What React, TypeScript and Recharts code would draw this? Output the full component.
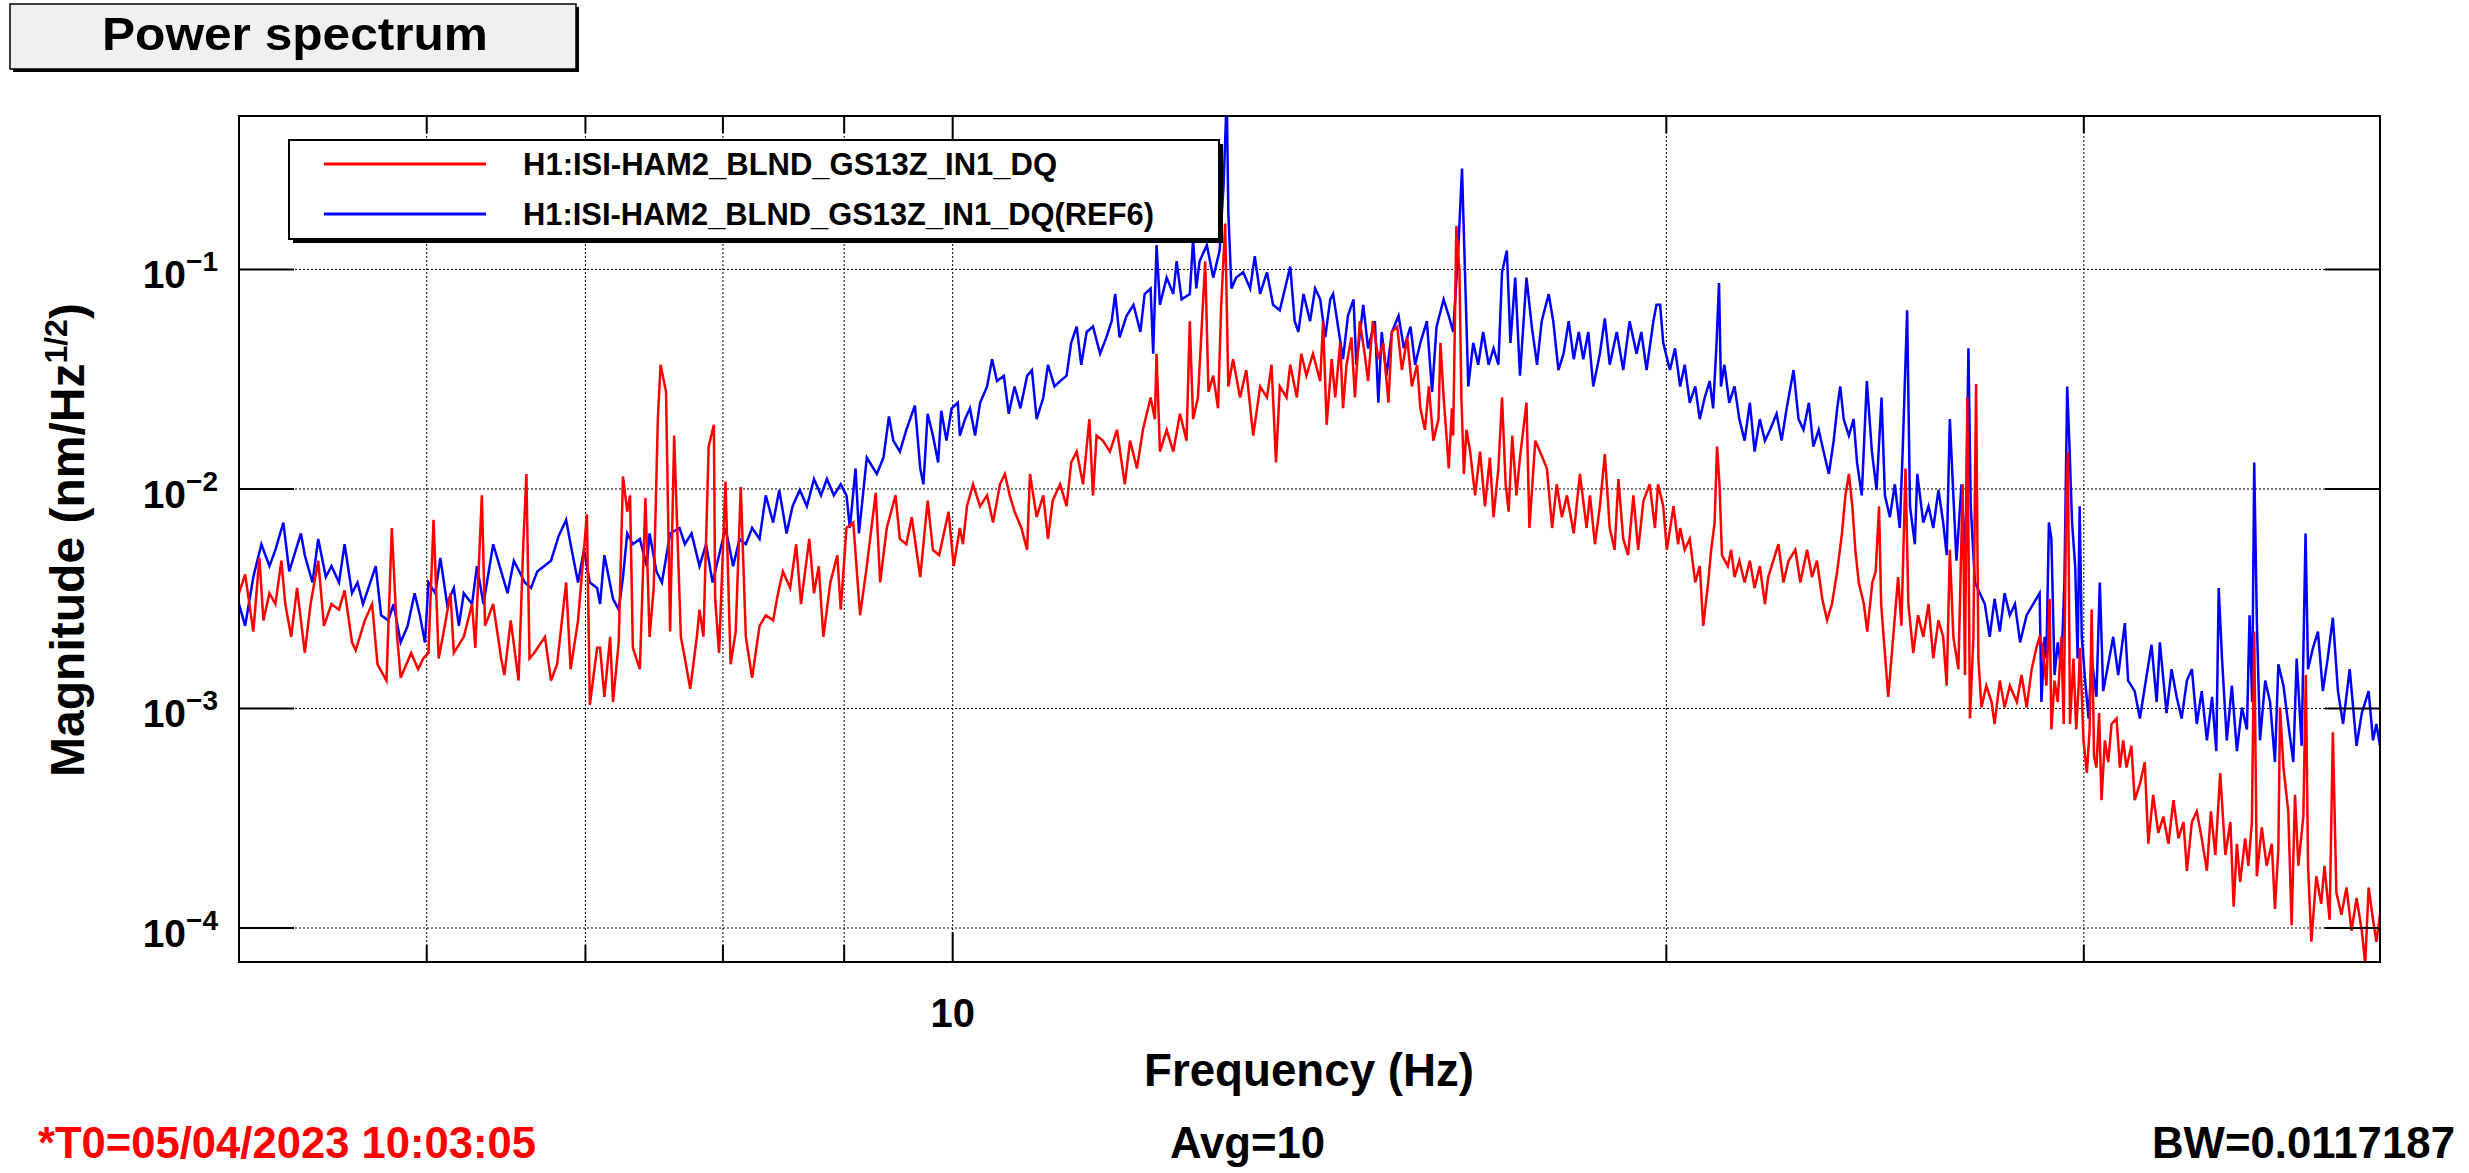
import React from 'react';
import { LineChart, Line, XAxis, YAxis, CartesianGrid } from 'recharts';

// ---------- data (frequency Hz, magnitude nm/Hz^1/2) ----------
const redSeries: [number, number][] = [
  [5.00, 0.00335], [5.03, 0.00408], [5.07, 0.00224], [5.10, 0.00485], [5.12, 0.00252], [5.15, 0.00335],
  [5.18, 0.00299], [5.21, 0.00471], [5.23, 0.00299], [5.26, 0.00212], [5.29, 0.00354], [5.33, 0.00179],
  [5.36, 0.00299], [5.40, 0.00471], [5.43, 0.00238], [5.47, 0.00299], [5.51, 0.00282], [5.54, 0.00345],
  [5.58, 0.00200], [5.60, 0.00184], [5.65, 0.00252], [5.69, 0.00299], [5.72, 0.00159], [5.77, 0.00134],
  [5.80, 0.00664], [5.83, 0.00212], [5.85, 0.00138], [5.91, 0.00179], [5.95, 0.00151], [5.98, 0.00169],
  [6.01, 0.00179], [6.04, 0.00723], [6.07, 0.00169], [6.10, 0.00224], [6.14, 0.00335], [6.16, 0.00179],
  [6.22, 0.00212], [6.27, 0.00299], [6.29, 0.00189], [6.33, 0.00935], [6.35, 0.00238], [6.40, 0.00299],
  [6.45, 0.00169], [6.47, 0.00142], [6.51, 0.00252], [6.56, 0.00134], [6.59, 0.00560], [6.61, 0.0117],
  [6.63, 0.00169], [6.66, 0.00179], [6.73, 0.00212], [6.77, 0.00134], [6.81, 0.00159], [6.87, 0.00375],
  [6.90, 0.00151], [6.95, 0.00252], [7.01, 0.00766], [7.03, 0.00104], [7.08, 0.00189],
  [7.10, 0.00189], [7.13, 0.00113], [7.17, 0.00212], [7.19, 0.00107], [7.23, 0.00200], [7.26, 0.0114],
  [7.29, 0.00788], [7.31, 0.00935], [7.33, 0.00189], [7.38, 0.00151], [7.42, 0.0091], [7.45, 0.00212],
  [7.48, 0.00354], [7.51, 0.0208], [7.53, 0.0368], [7.57, 0.0277], [7.60, 0.00224], [7.63, 0.0175],
  [7.65, 0.00744], [7.68, 0.00212], [7.71, 0.00169], [7.75, 0.00123], [7.80, 0.00212], [7.82, 0.00282],
  [7.85, 0.00212], [7.89, 0.0156], [7.93, 0.0196], [7.94, 0.00316], [7.97, 0.00179], [8.02, 0.0108],
  [8.06, 0.00159], [8.10, 0.00224], [8.14, 0.0102], [8.18, 0.00212], [8.23, 0.00138], [8.29, 0.00238],
  [8.34, 0.00266], [8.40, 0.00252], [8.44, 0.00335], [8.48, 0.00421], [8.54, 0.00354], [8.59, 0.00560],
  [8.63, 0.00299], [8.70, 0.00592], [8.74, 0.00335], [8.78, 0.00445], [8.82, 0.00212], [8.88, 0.00375],
  [8.94, 0.00499], [8.97, 0.00282], [9.02, 0.00664], [9.08, 0.00703], [9.14, 0.00266], [9.20, 0.00445],
  [9.28, 0.0096], [9.32, 0.00375], [9.38, 0.00664], [9.46, 0.00935], [9.50, 0.00592], [9.56, 0.00560],
  [9.61, 0.00744], [9.69, 0.00397], [9.76, 0.00884], [9.81, 0.00528], [9.87, 0.00499], [9.96, 0.00788],
  [10.01, 0.00445], [10.07, 0.00664],
  [10.10, 0.00560], [10.14, 0.00834], [10.20, 0.0105], [10.27, 0.00834], [10.34, 0.00935], [10.40, 0.00703],
  [10.47, 0.0105], [10.52, 0.0117], [10.57, 0.00935], [10.62, 0.00788], [10.69, 0.00664], [10.75, 0.00528],
  [10.78, 0.0117], [10.85, 0.00744], [10.92, 0.00935], [10.97, 0.00592], [11.02, 0.00884], [11.10, 0.0105],
  [11.17, 0.00834], [11.22, 0.0132], [11.28, 0.0148], [11.35, 0.0105], [11.42, 0.0208], [11.46, 0.00935],
  [11.50, 0.0175], [11.57, 0.0166], [11.65, 0.0148], [11.73, 0.0186], [11.82, 0.0105], [11.88, 0.0166],
  [11.96, 0.0124], [12.03, 0.0186], [12.12, 0.0261], [12.17, 0.0208], [12.19, 0.0413], [12.23, 0.0148],
  [12.31, 0.0186], [12.39, 0.0148], [12.47, 0.0220], [12.55, 0.0166], [12.59, 0.0581], [12.63, 0.0208],
  [12.69, 0.0261], [12.78, 0.109], [12.82, 0.0277], [12.88, 0.0328], [12.94, 0.0233], [12.98, 0.0690],
  [13.03, 0.162], [13.07, 0.0293], [13.13, 0.0390], [13.22, 0.0261], [13.30, 0.0348], [13.39, 0.0175],
  [13.48, 0.0293], [13.57, 0.0261], [13.63, 0.0368], [13.69, 0.0132], [13.74, 0.0293], [13.83, 0.0261],
  [13.88, 0.0368], [13.97, 0.0261], [14.03, 0.0413], [14.10, 0.0328], [14.19, 0.0413], [14.29, 0.0310],
  [14.33, 0.0581], [14.38, 0.0196], [14.45, 0.0390], [14.50, 0.0261], [14.57, 0.0463], [14.61, 0.0233],
  [14.66, 0.0368], [14.73, 0.0490], [14.78, 0.0261], [14.85, 0.0581], [14.92, 0.0413], [14.97, 0.0310],
  [15.04, 0.0581], [15.12, 0.0390], [15.19, 0.0463], [15.27, 0.0247], [15.32, 0.0519], [15.40, 0.0549],
  [15.47, 0.0348], [15.55, 0.0490], [15.62, 0.0293], [15.70, 0.0368], [15.75, 0.0233], [15.82, 0.0186],
  [15.88, 0.0293], [15.95, 0.0166], [16.03, 0.0208], [16.06, 0.0463], [16.11, 0.0261], [16.16, 0.0166],
  [16.19, 0.0124], [16.24, 0.0233], [16.26, 0.0175], [16.31, 0.158], [16.36, 0.0972], [16.39, 0.0261],
  [16.43, 0.0117], [16.47, 0.0186], [16.53, 0.0148], [16.61, 0.00935], [16.69, 0.0148], [16.77, 0.00834],
  [16.85, 0.0139], [16.91, 0.00744], [16.99, 0.0124], [17.05, 0.0261], [17.11, 0.0105], [17.16, 0.00788],
  [17.22, 0.0175], [17.29, 0.00935], [17.35, 0.0139], [17.46, 0.0247], [17.51, 0.00664], [17.61, 0.0166],
  [17.69, 0.0148], [17.81, 0.0124], [17.90, 0.00664], [17.98, 0.0105], [18.07, 0.00744], [18.16, 0.00935],
  [18.28, 0.00627], [18.39, 0.0117], [18.51, 0.00664], [18.57, 0.00935], [18.66, 0.00560], [18.75, 0.00834],
  [18.84, 0.0144], [18.93, 0.00664], [19.02, 0.00528], [19.09, 0.0111], [19.18, 0.00592], [19.27, 0.00499],
  [19.37, 0.00935], [19.46, 0.00528], [19.56, 0.00884], [19.68, 0.0105], [19.78, 0.00664], [19.84, 0.0105],
  [19.94, 0.00834], [20.01, 0.00528], [20.14, 0.00834], [20.23, 0.00560],
  [20.27, 0.00664], [20.36, 0.00528], [20.46, 0.00592], [20.57, 0.00375], [20.66, 0.00445], [20.73, 0.00238],
  [20.83, 0.00375], [20.89, 0.00528], [20.96, 0.00703], [21.01, 0.0156], [21.06, 0.0105], [21.11, 0.00499],
  [21.23, 0.00445], [21.30, 0.00528], [21.37, 0.00397], [21.47, 0.00471], [21.58, 0.00375], [21.69, 0.00471],
  [21.79, 0.00354], [21.90, 0.00445], [22.01, 0.00299], [22.08, 0.00397], [22.19, 0.00471], [22.30, 0.00560],
  [22.41, 0.00375], [22.52, 0.00471], [22.67, 0.00528], [22.78, 0.00375], [22.93, 0.00528], [23.04, 0.00397],
  [23.15, 0.00471], [23.27, 0.00316], [23.38, 0.00252], [23.49, 0.00299], [23.61, 0.00421], [23.72, 0.00627],
  [23.80, 0.00935], [23.88, 0.0117], [23.96, 0.00834], [24.03, 0.00528], [24.11, 0.00375], [24.23, 0.00299],
  [24.31, 0.00224], [24.43, 0.00375], [24.51, 0.00421], [24.59, 0.00834], [24.64, 0.00299], [24.69, 0.00224],
  [24.81, 0.00113], [24.93, 0.00212], [25.05, 0.00397], [25.13, 0.00238], [25.23, 0.0124], [25.30, 0.00299],
  [25.42, 0.00179], [25.54, 0.00266], [25.67, 0.00212], [25.80, 0.00299], [25.92, 0.00169], [26.05, 0.00252],
  [26.17, 0.00212], [26.26, 0.00127], [26.34, 0.00528], [26.43, 0.00212], [26.56, 0.00151], [26.67, 0.0105],
  [26.73, 0.00142], [26.79, 0.0261], [26.86, 0.00090], [26.95, 0.00212], [27.02, 0.0301], [27.08, 0.00169],
  [27.16, 0.00101], [27.29, 0.00127], [27.43, 0.00107], [27.51, 0.00085], [27.65, 0.00134], [27.78, 0.00101],
  [27.92, 0.00127], [28.11, 0.00107], [28.24, 0.00142], [28.38, 0.00101], [28.52, 0.00151], [28.65, 0.00189],
  [28.74, 0.00212],
  [28.83, 0.00189], [28.93, 0.00127], [29.02, 0.00316], [29.07, 0.000803], [29.16, 0.00134], [29.25, 0.00107],
  [29.35, 0.00212], [29.42, 0.00085], [29.49, 0.00834], [29.54, 0.0148], [29.60, 0.00085], [29.70, 0.00169],
  [29.78, 0.000803], [29.85, 0.00127], [29.89, 0.00189], [29.99, 0.000716], [30.09, 0.000508], [30.17, 0.000803],
  [30.23, 0.00282], [30.30, 0.000603], [30.37, 0.000538], [30.45, 0.000953], [30.52, 0.000382], [30.62, 0.000716],
  [30.72, 0.000570], [30.82, 0.00085], [30.97, 0.00090], [31.07, 0.000538], [31.17, 0.000716], [31.27, 0.000538],
  [31.42, 0.000676], [31.52, 0.000382], [31.68, 0.000453], [31.83, 0.000570], [31.94, 0.000242], [32.09, 0.000404],
  [32.25, 0.000271], [32.41, 0.000322], [32.57, 0.000242], [32.73, 0.000382], [32.89, 0.000256], [33.05, 0.000304],
  [33.16, 0.000182], [33.32, 0.000304], [33.48, 0.000340], [33.64, 0.000256], [33.81, 0.000182], [33.94, 0.000340],
  [34.09, 0.000215], [34.25, 0.000508], [34.42, 0.000215], [34.59, 0.000304], [34.70, 0.000125], [34.81, 0.000242],
  [34.92, 0.000162], [35.09, 0.000256], [35.20, 0.000192], [35.32, 0.000304], [35.40, 0.00224], [35.49, 0.000172],
  [35.66, 0.000287], [35.83, 0.000192], [36.01, 0.000242], [36.12, 0.000122], [36.24, 0.000228], [36.30, 0.00101],
  [36.42, 0.000538], [36.59, 0.000340], [36.71, 0.000103], [36.83, 0.000404], [36.95, 0.000192], [37.13, 0.000322],
  [37.22, 0.00142], [37.30, 0.000192], [37.42, 0.0000866], [37.60, 0.000172], [37.78, 0.000129], [37.90, 0.000192],
  [38.09, 0.000109], [38.21, 0.00078], [38.34, 0.000145], [38.53, 0.000115], [38.72, 0.000153], [38.91, 0.0000971],
  [39.10, 0.000137], [39.30, 0.0000971], [39.43, 0.0000689], [39.56, 0.000153], [39.73, 0.000109], [39.86, 0.0000866],
  [40.00, 0.000115],
];

const blueSeries: [number, number][] = [
  [5.00, 0.00299], [5.03, 0.00238], [5.07, 0.00397], [5.11, 0.00560], [5.15, 0.00445], [5.18, 0.00528],
  [5.22, 0.00703], [5.25, 0.00421], [5.31, 0.00627], [5.33, 0.00499], [5.37, 0.00375], [5.40, 0.00592],
  [5.44, 0.00397], [5.47, 0.00445], [5.51, 0.00375], [5.54, 0.00560], [5.58, 0.00335], [5.61, 0.00375],
  [5.64, 0.00299], [5.67, 0.00354], [5.71, 0.00445], [5.74, 0.00266], [5.78, 0.00252], [5.81, 0.00299],
  [5.85, 0.00200], [5.89, 0.00238], [5.93, 0.00335], [5.96, 0.00266], [5.99, 0.00200], [6.01, 0.00375],
  [6.05, 0.00335], [6.08, 0.00485], [6.12, 0.00299], [6.16, 0.00354], [6.19, 0.00238], [6.22, 0.00335],
  [6.27, 0.00299], [6.30, 0.00445], [6.34, 0.00299], [6.40, 0.00560], [6.45, 0.00421], [6.49, 0.00335],
  [6.53, 0.00471], [6.60, 0.00375], [6.64, 0.00354], [6.68, 0.00421], [6.77, 0.00471], [6.82, 0.00610],
  [6.87, 0.00723], [6.90, 0.00560], [6.95, 0.00375], [6.99, 0.00528], [7.03, 0.00375], [7.08, 0.00354],
  [7.10, 0.00299], [7.13, 0.00499], [7.19, 0.00316], [7.23, 0.00282], [7.26, 0.00397], [7.29, 0.00627],
  [7.33, 0.00560], [7.38, 0.00592], [7.43, 0.00445], [7.45, 0.00627], [7.50, 0.00421], [7.54, 0.00375],
  [7.60, 0.00627], [7.67, 0.00664], [7.71, 0.00560], [7.76, 0.00627], [7.82, 0.00445], [7.87, 0.00560],
  [7.92, 0.00375], [7.97, 0.00499], [8.02, 0.00664], [8.08, 0.00445], [8.13, 0.00592], [8.18, 0.00560],
  [8.23, 0.00664], [8.29, 0.00592], [8.34, 0.00935], [8.40, 0.00703], [8.45, 0.0099], [8.51, 0.00627],
  [8.56, 0.00834], [8.62, 0.0099], [8.68, 0.00834], [8.74, 0.0111], [8.80, 0.00935], [8.85, 0.0111],
  [8.91, 0.00935], [8.97, 0.0105], [9.02, 0.00935], [9.05, 0.00664], [9.10, 0.0124], [9.13, 0.00627],
  [9.20, 0.0139], [9.29, 0.0117], [9.35, 0.0139], [9.40, 0.0214], [9.44, 0.0166], [9.50, 0.0148],
  [9.56, 0.0186], [9.64, 0.0240], [9.69, 0.0124], [9.72, 0.0105], [9.76, 0.0220], [9.81, 0.0175],
  [9.86, 0.0132], [9.89, 0.0227], [9.94, 0.0166], [9.99, 0.0233], [10.05, 0.0247],
  [10.07, 0.0175], [10.12, 0.0208], [10.17, 0.0233], [10.22, 0.0175], [10.27, 0.0247], [10.34, 0.0293],
  [10.39, 0.0390], [10.44, 0.0310], [10.51, 0.0328], [10.56, 0.0220], [10.62, 0.0293], [10.68, 0.0233],
  [10.75, 0.0328], [10.80, 0.0348], [10.85, 0.0208], [10.92, 0.0261], [10.97, 0.0368], [11.04, 0.0293],
  [11.10, 0.0310], [11.17, 0.0328], [11.22, 0.0463], [11.28, 0.0549], [11.33, 0.0368], [11.39, 0.0519],
  [11.46, 0.0549], [11.54, 0.0413], [11.61, 0.0490], [11.67, 0.0581], [11.71, 0.0773], [11.76, 0.0490],
  [11.84, 0.0615], [11.92, 0.0690], [12.00, 0.0519], [12.05, 0.0773], [12.12, 0.0819], [12.15, 0.0413],
  [12.19, 0.129], [12.23, 0.0690], [12.31, 0.0918], [12.39, 0.0773], [12.43, 0.109], [12.49, 0.0731],
  [12.59, 0.0773], [12.63, 0.137], [12.67, 0.0819], [12.71, 0.109], [12.80, 0.129], [12.88, 0.0918],
  [12.96, 0.122], [13.01, 0.242], [13.05, 0.62], [13.07, 0.182], [13.11, 0.0819], [13.17, 0.0918],
  [13.26, 0.0972], [13.35, 0.0819], [13.41, 0.115], [13.48, 0.0773], [13.57, 0.0972], [13.65, 0.0690],
  [13.74, 0.0652], [13.81, 0.0819], [13.88, 0.103], [13.94, 0.0581], [13.99, 0.0519], [14.06, 0.0773],
  [14.15, 0.0581], [14.22, 0.0819], [14.29, 0.0731],
  [14.36, 0.0490], [14.43, 0.0731], [14.47, 0.0773], [14.54, 0.0549], [14.61, 0.0390], [14.68, 0.0615],
  [14.76, 0.0731], [14.80, 0.0368], [14.90, 0.0690], [14.97, 0.0437], [15.07, 0.0581], [15.12, 0.0247],
  [15.17, 0.0519], [15.24, 0.0328], [15.32, 0.0519], [15.42, 0.0615], [15.50, 0.0437], [15.60, 0.0549],
  [15.67, 0.0368], [15.75, 0.0463], [15.85, 0.0581], [15.93, 0.0277], [16.00, 0.0549], [16.11, 0.0731],
  [16.19, 0.0615], [16.26, 0.0519], [16.34, 0.122], [16.40, 0.288], [16.45, 0.0918], [16.50, 0.0293],
  [16.58, 0.0463], [16.66, 0.0368], [16.74, 0.0519], [16.83, 0.0368], [16.91, 0.0437], [16.99, 0.0368],
  [17.05, 0.0972], [17.13, 0.122], [17.19, 0.0463], [17.27, 0.0918], [17.35, 0.0328], [17.46, 0.0918],
  [17.55, 0.0549], [17.64, 0.0368], [17.72, 0.0581], [17.84, 0.0773], [17.92, 0.0581], [18.01, 0.0348],
  [18.10, 0.0413], [18.19, 0.0581], [18.28, 0.0390], [18.37, 0.0519], [18.45, 0.0390], [18.54, 0.0519],
  [18.63, 0.0293], [18.75, 0.0413], [18.84, 0.0598], [18.93, 0.0368], [19.06, 0.0519], [19.18, 0.0348],
  [19.30, 0.0581], [19.43, 0.0413], [19.52, 0.0519], [19.62, 0.0348], [19.75, 0.0581], [19.81, 0.0690],
  [19.88, 0.0690], [19.94, 0.0463], [20.07, 0.0348], [20.17, 0.0437], [20.27, 0.0293],
  [20.36, 0.0368], [20.46, 0.0247], [20.57, 0.0293], [20.66, 0.0208], [20.76, 0.0261], [20.86, 0.0310],
  [20.93, 0.0233], [21.00, 0.0463], [21.05, 0.0867], [21.09, 0.0293], [21.16, 0.0368], [21.26, 0.0247],
  [21.37, 0.0293], [21.47, 0.0208], [21.58, 0.0166], [21.69, 0.0247], [21.79, 0.0148], [21.90, 0.0208],
  [22.01, 0.0166], [22.12, 0.0186], [22.26, 0.0220], [22.37, 0.0166], [22.48, 0.0233], [22.63, 0.0348],
  [22.74, 0.0208], [22.85, 0.0186], [22.97, 0.0247], [23.07, 0.0156], [23.19, 0.0186], [23.30, 0.0148],
  [23.42, 0.0117], [23.53, 0.0166], [23.61, 0.0233], [23.68, 0.0293], [23.76, 0.0208], [23.88, 0.0175],
  [23.99, 0.0208], [24.07, 0.0132], [24.18, 0.00935], [24.30, 0.0310], [24.42, 0.0148], [24.53, 0.0099],
  [24.65, 0.0261], [24.73, 0.00935], [24.85, 0.00744], [24.97, 0.0105], [25.09, 0.00664], [25.16, 0.0148],
  [25.27, 0.0652], [25.34, 0.00834], [25.46, 0.00560], [25.52, 0.0117], [25.67, 0.00703], [25.80, 0.00834],
  [25.92, 0.00664], [26.05, 0.0099], [26.17, 0.00703], [26.26, 0.00499], [26.34, 0.0208], [26.43, 0.00935],
  [26.51, 0.00471], [26.64, 0.0105], [26.74, 0.00445], [26.82, 0.0437], [26.88, 0.00834], [26.99, 0.00375],
  [27.12, 0.00335], [27.25, 0.00299], [27.38, 0.00212], [27.51, 0.00316], [27.65, 0.00224], [27.78, 0.00335],
  [27.92, 0.00266], [28.06, 0.00299], [28.20, 0.00200], [28.38, 0.00266], [28.56, 0.00299], [28.74, 0.00335],
  [28.79, 0.00107], [28.88, 0.00212], [28.93, 0.00169], [29.00, 0.00703], [29.07, 0.00592], [29.16, 0.00142],
  [29.25, 0.00200], [29.35, 0.00151], [29.44, 0.00375], [29.52, 0.0293], [29.58, 0.0166], [29.66, 0.00703],
  [29.75, 0.00445], [29.82, 0.00169], [29.88, 0.00834], [29.94, 0.00212], [30.04, 0.00134], [30.14, 0.00090],
  [30.23, 0.00169], [30.37, 0.00113], [30.47, 0.00375], [30.57, 0.00120], [30.72, 0.00159], [30.87, 0.00212],
  [31.02, 0.00142], [31.22, 0.00245], [31.32, 0.00134], [31.52, 0.00120], [31.68, 0.00090], [31.89, 0.00142],
  [32.04, 0.00195], [32.20, 0.00107], [32.30, 0.00200], [32.51, 0.000953], [32.67, 0.00151], [32.83, 0.00113],
  [32.99, 0.00090], [33.16, 0.00134], [33.32, 0.00151], [33.48, 0.00085], [33.64, 0.00120], [33.81, 0.000716],
  [33.98, 0.00113], [34.12, 0.000639], [34.20, 0.00354], [34.31, 0.00169], [34.47, 0.000716], [34.64, 0.00127],
  [34.81, 0.000639], [34.98, 0.00101], [35.15, 0.000803], [35.24, 0.00266], [35.33, 0.00107], [35.40, 0.0132],
  [35.49, 0.00252], [35.60, 0.000716], [35.78, 0.00134], [35.95, 0.00107], [36.12, 0.000570], [36.24, 0.00159],
  [36.42, 0.00127], [36.59, 0.00085], [36.77, 0.000570], [36.89, 0.00169], [37.07, 0.000676], [37.21, 0.00627],
  [37.30, 0.00151], [37.48, 0.00189], [37.66, 0.00224], [37.84, 0.00120], [38.02, 0.00169], [38.21, 0.00259],
  [38.40, 0.00120], [38.59, 0.00085], [38.84, 0.00151], [39.10, 0.000676], [39.30, 0.000953], [39.56, 0.00120],
  [39.73, 0.000716], [39.86, 0.00085], [40.00, 0.000676],
];

const xDomain: [number, number] = [5, 40];
const yDomain: [number, number] = [7e-5, 0.5];
const xTicks = [6, 7, 8, 9, 10, 20, 30];
const xLabeledTicks = [10];
const yMajorTicks = [1e-4, 1e-3, 1e-2, 1e-1];
const yMinorTicks = [
  7e-5, 8e-5, 9e-5,
  2e-4, 3e-4, 4e-4, 5e-4, 6e-4, 7e-4, 8e-4, 9e-4,
  2e-3, 3e-3, 4e-3, 5e-3, 6e-3, 7e-3, 8e-3, 9e-3,
  2e-2, 3e-2, 4e-2, 5e-2, 6e-2, 7e-2, 8e-2, 9e-2,
  0.2, 0.3, 0.4, 0.5,
];

const titleText = 'Power spectrum';
const seriesNames = ['H1:ISI-HAM2_BLND_GS13Z_IN1_DQ', 'H1:ISI-HAM2_BLND_GS13Z_IN1_DQ(REF6)'];
const seriesColors = ['#ff0000', '#0000ff'];
const xTitle = 'Frequency (Hz)';
const footerLeft = '*T0=05/04/2023 10:03:05';
const footerMid = 'Avg=10';
const footerRight = 'BW=0.0117187';

// ---------- layout ----------
const W = 2469;
const H = 1173;
const PLOT = { left: 239, right: 2380, top: 116, bottom: 962 };
const FONT = '"Liberation Sans", Arial, Helvetica, sans-serif';

const redData = redSeries.map(([f, m]) => ({ f, m }));
const blueData = blueSeries.map(([f, m]) => ({ f, m }));

const XTick = (props: any) => {
  const { x, payload } = props;
  const v = payload.value;
  const len = v === 10 ? 30 : 17;
  return (
    <g>
      <line x1={x} x2={x} y1={PLOT.bottom} y2={PLOT.bottom - len} stroke="#000" strokeWidth={2} />
      <line x1={x} x2={x} y1={PLOT.top} y2={PLOT.top + len} stroke="#000" strokeWidth={2} />
      {xLabeledTicks.includes(v) && (
        <text x={x} y={1027} textAnchor="middle" fontFamily={FONT} fontWeight="bold" fontSize={40} fill="#000">
          {String(v)}
        </text>
      )}
    </g>
  );
};

const YMajorTick = (props: any) => {
  const { y, payload } = props;
  const exp = Math.round(Math.log10(payload.value));
  return (
    <g>
      <line x1={PLOT.left} x2={PLOT.left + 55} y1={y} y2={y} stroke="#000" strokeWidth={2} />
      <line x1={PLOT.right - 55} x2={PLOT.right} y1={y} y2={y} stroke="#000" strokeWidth={2} />
      <text x={218} y={y + 19} textAnchor="end" fontFamily={FONT} fontWeight="bold" fontSize={39} fill="#000">
        <tspan>10</tspan>
        <tspan dy={-17} fontSize={28}>{(exp < 0 ? '\u2212' : '') + Math.abs(exp)}</tspan>
      </text>
    </g>
  );
};

const YMinorTick = (props: any) => {
  const { y } = props;
  return (
    <g>
      <line x1={PLOT.left} x2={PLOT.left + 27} y1={y} y2={y} stroke="#000" strokeWidth={1.5} />
      <line x1={PLOT.right - 27} x2={PLOT.right} y1={y} y2={y} stroke="#000" strokeWidth={1.5} />
    </g>
  );
};

export default function App() {
  return (
    <div style={{ position: 'absolute', left: 0, top: 0, width: W, height: H, background: '#fff', overflow: 'hidden' }}>
      <LineChart
        width={W}
        height={H}
        margin={{ top: PLOT.top, right: W - PLOT.right, bottom: 0, left: 0 }}
      >
        <CartesianGrid
          yAxisId="major"
          stroke="#000"
          strokeWidth={1}
          strokeDasharray="2 2"
        />
        <XAxis
          dataKey="f"
          type="number"
          scale="log"
          domain={xDomain}
          allowDataOverflow
          ticks={xTicks}
          interval={0}
          tick={<XTick />}
          tickLine={false}
          axisLine={false}
          height={H - PLOT.bottom}
        />
        <YAxis
          yAxisId="major"
          type="number"
          scale="log"
          domain={yDomain}
          allowDataOverflow
          ticks={yMajorTicks}
          interval={0}
          tick={<YMajorTick />}
          tickLine={false}
          axisLine={false}
          width={PLOT.left}
        />
        <YAxis
          yAxisId="minor"
          type="number"
          scale="log"
          domain={yDomain}
          allowDataOverflow
          ticks={yMinorTicks}
          interval={0}
          tick={<YMinorTick />}
          tickLine={false}
          axisLine={false}
          width={0}
        />
        <Line
          yAxisId="major"
          data={blueData}
          dataKey="m"
          type="linear"
          stroke={seriesColors[1]}
          strokeWidth={2.5}
          dot={false}
          activeDot={false}
          isAnimationActive={false}
        />
        <Line
          yAxisId="major"
          data={redData}
          dataKey="m"
          type="linear"
          stroke={seriesColors[0]}
          strokeWidth={2.5}
          dot={false}
          activeDot={false}
          isAnimationActive={false}
        />
      </LineChart>

      <svg
        width={W}
        height={H}
        style={{ position: 'absolute', left: 0, top: 0, pointerEvents: 'none' }}
      >
        {/* frame */}
        <rect
          x={PLOT.left}
          y={PLOT.top}
          width={PLOT.right - PLOT.left}
          height={PLOT.bottom - PLOT.top}
          fill="none"
          stroke="#000"
          strokeWidth={2}
        />

        {/* title box */}
        <rect x={13} y={7} width={566} height={65} fill="#000" />
        <rect x={10} y={4} width={566} height={65} fill="#f0f0f0" stroke="#000" strokeWidth={1.5} />
        <text
          x={102}
          y={50}
          fontFamily={FONT}
          fontWeight="bold"
          fontSize={47}
          textLength={386}
          lengthAdjust="spacingAndGlyphs"
          fill="#000"
        >
          {titleText}
        </text>

        {/* legend */}
        <rect x={293} y={144} width={930} height={99} fill="#000" />
        <rect x={289} y={140} width={930} height={99} fill="#fff" stroke="#000" strokeWidth={2} />
        <line x1={324} x2={486} y1={164} y2={164} stroke={seriesColors[0]} strokeWidth={3} />
        <line x1={324} x2={486} y1={214} y2={214} stroke={seriesColors[1]} strokeWidth={3} />
        <text x={523} y={175} fontFamily={FONT} fontWeight="bold" fontSize={31} textLength={534} lengthAdjust="spacingAndGlyphs" fill="#000">
          {seriesNames[0]}
        </text>
        <text x={523} y={225} fontFamily={FONT} fontWeight="bold" fontSize={31} textLength={631} lengthAdjust="spacingAndGlyphs" fill="#000">
          {seriesNames[1]}
        </text>

        {/* y title */}
        <text
          x={84}
          y={540}
          transform="rotate(-90 84 540)"
          textAnchor="middle"
          fontFamily={FONT}
          fontWeight="bold"
          fontSize={48}
          fill="#000"
        >
          <tspan>Magnitude (nm/Hz</tspan>
          <tspan dy={-17} fontSize={32}>1/2</tspan>
          <tspan dy={17}>)</tspan>
        </text>

        {/* x title */}
        <text
          x={1144}
          y={1086}
          fontFamily={FONT}
          fontWeight="bold"
          fontSize={46}
          textLength={330}
          lengthAdjust="spacingAndGlyphs"
          fill="#000"
        >
          {xTitle}
        </text>

        {/* footer */}
        <text x={38} y={1158} fontFamily={FONT} fontWeight="bold" fontSize={44} textLength={498} lengthAdjust="spacingAndGlyphs" fill="#ff0000">
          {footerLeft}
        </text>
        <text x={1170} y={1158} fontFamily={FONT} fontWeight="bold" fontSize={44} textLength={155} lengthAdjust="spacingAndGlyphs" fill="#000">
          {footerMid}
        </text>
        <text x={2152} y={1158} fontFamily={FONT} fontWeight="bold" fontSize={44} textLength={303} lengthAdjust="spacingAndGlyphs" fill="#000">
          {footerRight}
        </text>
      </svg>
    </div>
  );
}
